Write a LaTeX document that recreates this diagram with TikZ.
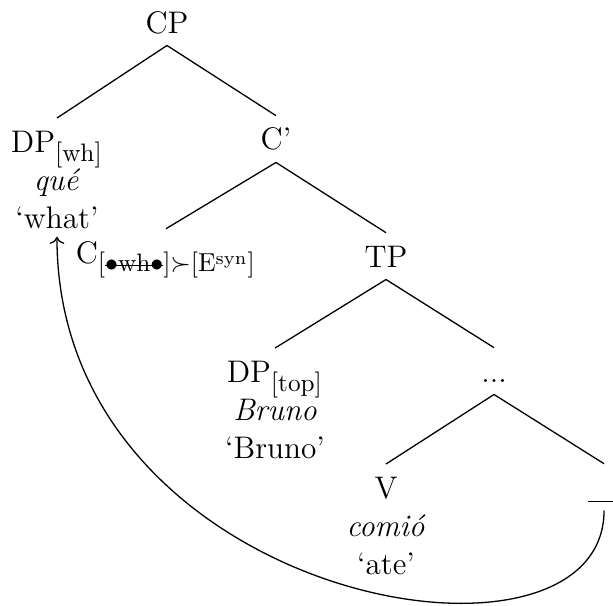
\documentclass[12pt,tikz,border=0pt]{standalone}
\usepackage{amsmath}
\usepackage{amssymb}
\usepackage{tikz}
\usetikzlibrary{arrows.meta}

\DeclareMathSizes{12}{12}{9.7}{7}
\newcommand{\struck}[1]{\leavevmode\setbox0\hbox{#1}\rlap{\raise0.55ex\hbox{\rule{\wd0}{0.4pt}}}\box0}

\begin{document}
\begin{tikzpicture}[
        cat/.style={inner sep=4pt, text height=9pt, text depth=0.6pt, anchor=base},
        leaf/.style={inner sep=3pt, align=center, anchor=north},
        branch/.style={line width=0.5pt},
        move/.style={->, line width=0.5pt}
    ]
        \useasboundingbox (0,0) rectangle (8.285,-8.177);
        \node[cat] (cp) at (2.257,-0.446) {CP};
        \node[leaf] (dpwh) at (0.770,-1.595) {\strut DP$_{[\text{wh}]}$\\\textit{qué}\\‘what’};
        \node[cat] (cbar) at (3.730,-2.027) {C’};
        \node[cat] (c) at (2.244,-3.555) {C$_{[\text{\struck{$\bullet$wh$\bullet$}}]\succ[\mathrm{E}^{\mathrm{syn}}]}$};
        \node[cat] (tp) at (5.217,-3.609) {TP};
        \node[leaf] (dptop) at (3.717,-4.704) {\strut DP$_{[\text{top}]}$\\\textit{Bruno}\\‘Bruno’};
        \node[cat] (dots) at (6.677,-5.163) {...};
        \node[leaf] (v) at (5.217,-6.271) {\strut V\\\textit{comió}\\‘ate’};
        \node[cat] (gap) at (8.164,-6.731) {\rule[-1.5pt]{12pt}{0.4pt}};

        \draw[branch] (cp.south) -- (dpwh.north);
        \draw[branch] (cp.south) -- (cbar.north);
        \draw[branch] (cbar.south) -- (c.north);
        \draw[branch] (cbar.south) -- (tp.north);
        \draw[branch] (tp.south) -- (dptop.north);
        \draw[branch] (tp.south) -- (dots.north);
        \draw[branch] (dots.south) -- (v.north);
        \draw[branch] (dots.south) -- (gap.north);
        \draw[move] (gap.south) .. controls +(0,-2.50) and +(0,-4.96) .. (dpwh.south);
    \end{tikzpicture}
\end{document}
